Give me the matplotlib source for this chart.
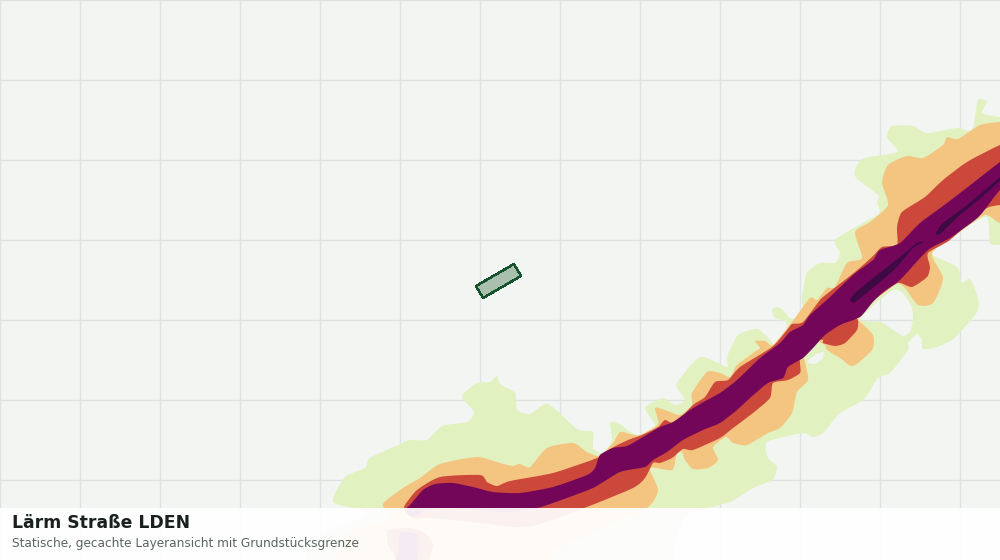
import numpy as np
import matplotlib
matplotlib.use("Agg")
import matplotlib.pyplot as plt
from matplotlib.path import Path
from matplotlib.patches import PathPatch, Polygon

# noise contours, map coordinates (x to the right, y downward)
zone_55 = [(333, 502), (345, 477), (365, 468), (370, 458), (398, 445), (410, 440), (427, 440), (442, 426),
           (467, 422), (474, 412), (462, 398), (465, 392), (477, 383), (490, 382), (497, 376), (500, 384),
           (515, 393), (517, 410), (530, 414), (548, 404), (577, 429), (593, 432), (593, 448), (603, 453),
           (612, 440), (610, 423), (618, 423), (632, 433), (645, 436), (655, 425), (645, 408), (663, 398),
           (675, 405), (685, 400), (680, 392), (677, 383), (700, 357), (727, 367), (727, 357), (738, 335),
           (757, 329), (768, 338), (775, 345), (785, 335), (786, 322), (775, 318), (772, 310), (777, 307),
           (783, 310), (790, 318), (803, 320), (802, 298), (807, 273), (820, 263), (835, 263),
           (840, 253), (835, 240), (863, 223), (880, 213), (877, 203), (878, 195), (855, 176), (862, 159),
           (897, 152), (887, 137), (892, 126), (913, 126), (927, 133), (957, 128), (972, 130), (978, 100),
           (987, 102), (982, 113), (1000, 117), (1020, 117), (1020, 245), (1000, 245), (990, 243), (987, 217),
           (965, 228), (940, 245), (933, 255), (957, 267), (962, 283), (970, 279), (978, 298), (977, 312),
           (962, 330), (952, 340), (937, 347), (923, 349), (922, 340), (917, 334), (908, 343), (908, 350),
           (890, 373), (878, 378), (863, 400), (840, 413), (823, 433), (813, 437), (803, 433), (767, 442),
           (768, 458), (777, 467), (772, 480), (753, 488), (730, 502), (700, 510), (685, 517), (673, 552),
           (668, 590), (300, 590), (307, 560), (310, 540), (362, 517), (363, 510)]
zone_55_bay = [(860, 320), (880, 322), (890, 328), (903, 336), (910, 332), (913, 320), (912, 308), (903, 293),
               (893, 290), (876, 303)]
zone_55_hole = [(807, 362), (815, 355), (823, 352), (823, 358), (815, 364)]

zone_60 = [(383, 504), (403, 488), (420, 478), (440, 464), (477, 457), (500, 463), (512, 466), (520, 464),
           (530, 467), (547, 448), (573, 443), (587, 452), (600, 456), (613, 443), (620, 432), (630, 434),
           (640, 435), (658, 424), (655, 408), (665, 410), (680, 415), (692, 405), (692, 393), (707, 372),
           (720, 373), (730, 377), (737, 365), (753, 353), (760, 348), (755, 341), (765, 341), (773, 345),
           (792, 322), (810, 298), (817, 300), (827, 288), (835, 287), (847, 263), (862, 258), (855, 232),
           (870, 222), (888, 205), (882, 183), (888, 165), (907, 156), (923, 158), (943, 145), (947, 137),
           (958, 139), (980, 125), (1000, 122), (1020, 120), (1020, 223), (1000, 223), (985, 215), (960, 232),
           (932, 253), (943, 278), (933, 303), (918, 305), (905, 288), (893, 282), (865, 300), (852, 316),
           (858, 320), (873, 335), (872, 350), (853, 366), (840, 358), (827, 350), (825, 345), (812, 340),
           (803, 352), (805, 362), (808, 380), (797, 392), (792, 413), (780, 428), (768, 433), (747, 445),
           (733, 443), (726, 437), (713, 447), (718, 460), (708, 468), (693, 469), (685, 460), (682, 452),
           (677, 453), (672, 470), (650, 468), (658, 490), (647, 508), (600, 530), (553, 552), (540, 590),
           (345, 590), (345, 535), (388, 520)]

zone_65 = [(405, 505), (417, 490), (440, 477), (480, 475), (487, 482), (497, 486), (510, 481), (553, 473),
           (597, 458), (610, 449), (628, 440), (642, 435), (658, 427), (665, 420), (675, 423), (693, 405),
           (705, 397), (715, 382), (728, 380), (740, 367), (772, 347), (787, 330), (792, 324), (803, 322),
           (820, 300), (828, 293), (855, 272), (872, 257), (882, 247), (897, 245), (897, 227), (902, 212),
           (925, 197), (943, 180), (967, 162), (1000, 145), (1020, 140), (1020, 205), (1000, 205), (983, 210),
           (950, 240), (928, 253), (930, 267), (927, 277), (912, 287), (898, 283), (878, 297), (854, 315),
           (858, 320), (857, 330), (845, 343), (835, 346), (823, 343), (823, 340), (812, 340), (800, 355),
           (800, 363), (800, 373), (788, 380), (773, 383), (770, 398), (753, 413), (733, 428), (720, 438),
           (693, 450), (683, 449), (672, 458), (660, 463), (653, 463), (645, 478), (633, 488), (587, 507),
           (537, 525), (513, 527), (480, 523), (430, 518), (413, 518), (405, 510)]

zone_70 = [(410, 505), (423, 490), (435, 484), (453, 483), (473, 487), (493, 492), (520, 493), (553, 487),
           (587, 475), (595, 468), (600, 455), (613, 448), (627, 446), (643, 437), (660, 427), (673, 422),
           (690, 410), (707, 400), (720, 393), (737, 380), (760, 358), (780, 343), (790, 332), (803, 325),
           (810, 315), (830, 297), (853, 275), (873, 260), (880, 250), (900, 243), (920, 223), (947, 203),
           (973, 183), (1000, 162), (1020, 150), (1020, 175), (1000, 190), (983, 212), (975, 220), (950, 238),
           (928, 250), (900, 280), (883, 292), (872, 303), (860, 317), (840, 325), (825, 335), (813, 348),
           (803, 358), (788, 367), (783, 378), (768, 383), (750, 398), (737, 410), (720, 423), (703, 430),
           (683, 440), (667, 452), (653, 460), (645, 467), (620, 472), (593, 488), (553, 503), (537, 508),
           (507, 512), (450, 508), (425, 510), (418, 515), (410, 516), (405, 510)]

zone_75_a = [(850, 300), (855, 293), (873, 278), (900, 257), (917, 243), (924, 242), (913, 248), (897, 267),
             (880, 282), (855, 302)]
zone_75_b = [(936, 233), (943, 223), (967, 205), (1000, 177), (1010, 170), (1010, 172), (982, 197), (960, 215),
             (940, 234)]

# second road, only visible under the caption strip
lower_65 = [(388, 530), (410, 528), (425, 533), (433, 545), (428, 562), (420, 590), (380, 590), (395, 558),
            (388, 545)]
lower_70 = [(400, 534), (410, 532), (418, 535), (418, 550), (414, 590), (392, 590), (398, 555)]

parcel = [(514, 264), (521, 276), (483, 298), (476, 286)]

grid_x = list(range(0, 1000, 80))
grid_y = list(range(0, 560, 80))

title = "Lärm Straße LDEN"
subtitle = "Statische, gecachte Layeransicht mit Grundstücksgrenze"


def smooth_ring(points, flip=False):
    """Closed Catmull-Rom ring as bezier path pieces."""
    pts = np.array(points, dtype=float)
    area = np.sum(pts[:, 0] * np.roll(pts[:, 1], -1) - np.roll(pts[:, 0], -1) * pts[:, 1])
    if (area < 0) != flip:
        pts = pts[::-1]
    n = len(pts)
    verts = [pts[0]]
    codes = [Path.MOVETO]
    for i in range(n):
        p0, p1, p2, p3 = pts[i - 1], pts[i], pts[(i + 1) % n], pts[(i + 2) % n]
        verts += [p1 + (p2 - p0) / 9, p2 - (p3 - p1) / 9, p2]
        codes += [Path.CURVE4, Path.CURVE4, Path.CURVE4]
    return verts, codes


def add_zone(ax, color, ring, holes=()):
    verts, codes = smooth_ring(ring)
    for hole in holes:
        v, c = smooth_ring(hole, flip=True)
        verts += v
        codes += c
    ax.add_patch(PathPatch(Path(verts, codes), facecolor=color, edgecolor="none", zorder=2))


fig = plt.figure(figsize=(10, 5.6), dpi=100)
ax = fig.add_axes([0, 0, 1, 1])
ax.set_xlim(0, 1000)
ax.set_ylim(560, 0)
ax.set_facecolor("#f3f5f3")
ax.set_xticks(grid_x)
ax.set_yticks(grid_y)
ax.tick_params(length=0, labelbottom=False, labelleft=False)
ax.grid(True, color="#dde3e0", linewidth=1)
ax.set_axisbelow(True)
for spine in ax.spines.values():
    spine.set_visible(False)

add_zone(ax, "#e1f1bf", zone_55, [zone_55_bay, zone_55_hole])
add_zone(ax, "#f4c581", zone_60)
add_zone(ax, "#cc483b", zone_65)
add_zone(ax, "#cc483b", lower_65)
add_zone(ax, "#74065a", zone_70)
add_zone(ax, "#74065a", lower_70)
add_zone(ax, "#3f0a44", zone_75_a)
add_zone(ax, "#3f0a44", zone_75_b)

ax.add_patch(Polygon(parcel, closed=True, facecolor="#a8c0ad", edgecolor="#14532d", linewidth=1.0,
                     antialiased=False, zorder=3))

# caption strip
ax.axhspan(508, 560, facecolor="white", alpha=0.93, linewidth=0, zorder=5)
ax.text(12, 523, title, fontsize=12.4, fontweight="bold", color="#18211d", va="center", ha="left", zorder=6)
ax.text(12, 544, subtitle, fontsize=8.72, color="#5b6560", va="center", ha="left", zorder=6)

fig.savefig("out.png", dpi=100)
